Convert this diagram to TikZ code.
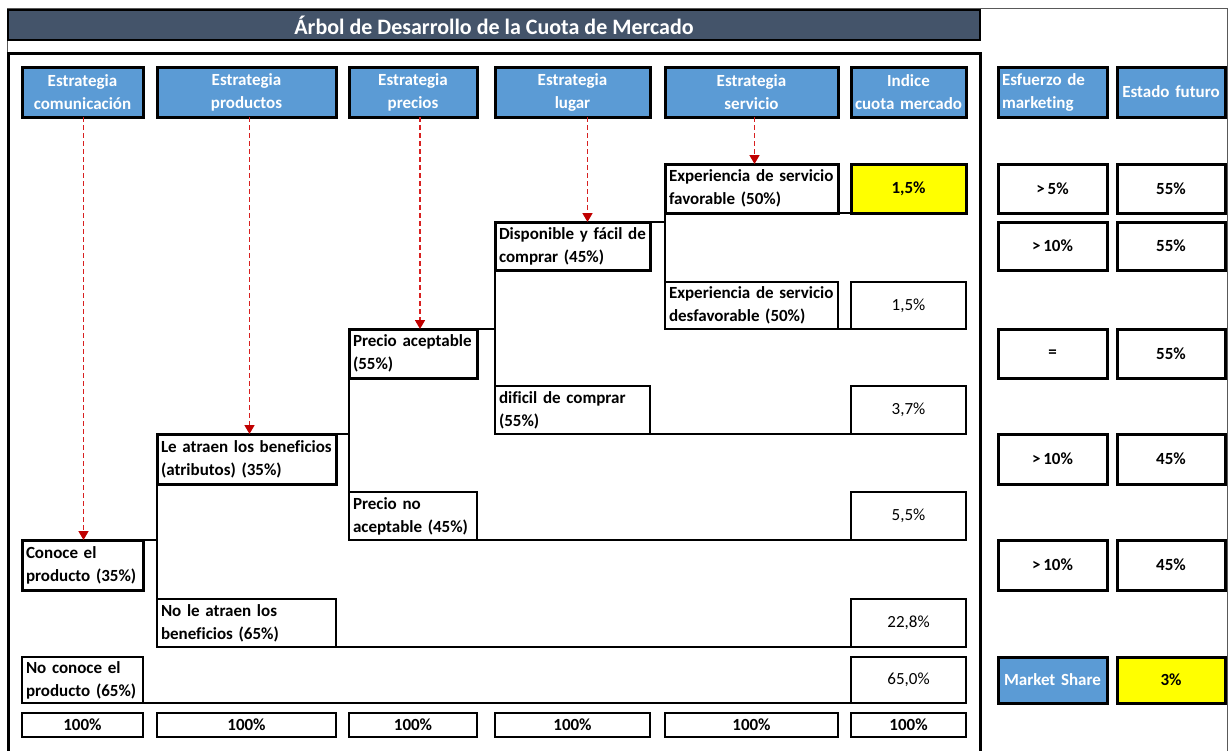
\documentclass[tikz,border=0pt]{standalone}
\usepackage{fontspec}
\setmainfont{Carlito}[Ligatures=NoCommon]
\usetikzlibrary{arrows.meta}

\definecolor{azulenc}{HTML}{5B9BD5}
\definecolor{pizarra}{HTML}{44546A}
\definecolor{amarillo}{HTML}{FFFF00}
\definecolor{rojoflecha}{HTML}{C00000}
\definecolor{rojolinea}{HTML}{D82020}

\tikzset{
  caja/.style={draw=black, line width=2pt, outer sep=0pt, inner xsep=4pt, inner ysep=0pt,
    anchor=north west, font=\fontsize{17}{23}\selectfont},
  gruesa/.style={line width=3pt},
  encab/.style={caja, gruesa, fill=azulenc, text=white, align=center,
    font=\bfseries\fontsize{17}{23}\selectfont},
  rama/.style={caja, align=left, font=\bfseries\fontsize{17}{23}\selectfont},
  valor/.style={caja, align=center},
  negrita/.style={font=\bfseries\fontsize{17}{23}\selectfont},
  linea/.style={line width=2pt},
  flecha/.style={rojolinea, line width=1.6pt, dash pattern=on 5pt off 3pt,
    -{Triangle[width=10pt,length=9pt,color=rojoflecha]}}
}

\begin{document}
\begin{tikzpicture}[x=1pt,y=-1pt]
  \useasboundingbox (0,0) rectangle (1230,750);
  \clip (0,0) rectangle (1230,750);

  % Marco exterior y titulo
  \draw[black!65, line width=1pt] (7,8) rectangle (1227,770);
  \node[caja, line width=2.5pt, fill=pizarra, text=white, minimum width=972pt, minimum height=30pt,
    font=\bfseries\fontsize{22}{26}\selectfont] (titulo) at (8,10) {Árbol de Desarrollo de la Cuota de Mercado};
  \draw[line width=3pt] (8,770) -- (8,53) -- (980,53) -- (980,770);

  % Encabezados
  \node[encab, text width=113pt, minimum height=50pt] (hcom) at (22,67) {Estrategia\\comunicación};
  \node[encab, text width=171pt, minimum height=50pt] (hpro) at (157,67) {Estrategia\\productos};
  \node[encab, text width=120pt, minimum height=50pt] (hpre) at (349,67) {Estrategia\\precios};
  \node[encab, text width=147pt, minimum height=50pt] (hlug) at (495,67) {Estrategia\\lugar};
  \node[encab, text width=165pt, minimum height=50pt] (hser) at (665,67) {Estrategia\\servicio};
  \node[encab, inner xsep=1pt, text width=113pt, minimum height=50pt] (hind) at (851,67) {Indice\\cuota mercado};
  \node[encab, text width=101pt, minimum height=50pt, align=left] (hesf) at (998,67) {Esfuerzo de\\marketing};
  \node[encab, text width=100pt, minimum height=50pt] (hest) at (1117,67) {Estado futuro};

  % Ramas del arbol
  \node[rama, gruesa, text width=113pt, minimum height=50pt] (conoce) at (22,540) {Conoce el\\producto (35\%)};
  \node[rama, text width=113pt, minimum height=46pt] (noconoce) at (22,657) {No conoce el\\producto (65\%)};
  \node[rama, gruesa, text width=171pt, minimum height=50pt] (atraen) at (157,434) {Le atraen los beneficios\\(atributos) (35\%)};
  \node[rama, text width=171pt, minimum height=48pt] (noatraen) at (157,599) {No le atraen los\\beneficios (65\%)};
  \node[rama, gruesa, text width=120pt, minimum height=49pt] (pacep) at (349,329) {Precio aceptable\\(55\%)};
  \node[rama, text width=120pt, minimum height=48pt] (pnoacep) at (349,492) {Precio no\\aceptable (45\%)};
  \node[rama, gruesa, text width=147pt, minimum height=48pt] (disp) at (495,222) {Disponible y fácil de\\comprar (45\%)};
  \node[rama, text width=147pt, minimum height=48pt] (dificil) at (495,386) {dificil de comprar\\(55\%)};
  \node[rama, gruesa, text width=165pt, minimum height=49pt] (fav) at (665,164) {Experiencia de servicio\\favorable (50\%)};
  \node[rama, text width=165pt, minimum height=47pt] (desfav) at (665,282) {Experiencia de servicio\\desfavorable (50\%)};

  % Indice cuota de mercado
  \node[valor, gruesa, negrita, fill=amarillo, text width=107pt, minimum height=49pt] (vfav) at (851,164) {1,5\%};
  \node[valor, text width=107pt, minimum height=47pt] (vdesfav) at (851,282) {1,5\%};
  \node[valor, text width=107pt, minimum height=48pt] (vdif) at (851,386) {3,7\%};
  \node[valor, text width=107pt, minimum height=48pt] (vpno) at (851,492) {5,5\%};
  \node[valor, text width=107pt, minimum height=48pt] (vnoatr) at (851,599) {22,8\%};
  \node[valor, text width=107pt, minimum height=46pt] (vnocon) at (851,657) {65,0\%};

  % Uniones
  \draw[linea] (conoce.north east) -- (conoce.north east -| atraen.west);
  \draw[linea] (atraen.north west) -- (noatraen.south west);
  \draw[linea] (atraen.north east) -- (atraen.north east -| pacep.west);
  \draw[linea] (pacep.north west) -- (pnoacep.south west);
  \draw[linea] (pacep.north east) -- (pacep.north east -| disp.west);
  \draw[linea] (disp.north west) -- (dificil.south west);
  \draw[linea] (disp.north east) -- (disp.north east -| fav.west);
  \draw[linea] (fav.north west) -- (desfav.south west);
  \draw[linea] (fav.south east) -- (vfav.south west);
  \draw[linea] (desfav.south east) -- (vdesfav.south west);
  \draw[linea] (dificil.south east) -- (vdif.south west);
  \draw[linea] (pnoacep.south east) -- (vpno.south west);
  \draw[linea] (noatraen.south east) -- (vnoatr.south west);
  \draw[linea] (noconoce.south east) -- (vnocon.south west);

  % Flechas de estrategia
  \coordinate (acom) at ([xshift=1pt]hcom.south);
  \coordinate (apro) at ([xshift=3pt]hpro.south);
  \coordinate (apre) at ([xshift=7pt]hpre.south);
  \coordinate (alug) at ([xshift=15pt]hlug.south);
  \coordinate (aser) at ([xshift=3pt]hser.south);
  \draw[flecha] (acom) -- (acom |- conoce.north);
  \draw[flecha] (apro) -- (apro |- atraen.north);
  \draw[flecha] (apre) -- (apre |- pacep.north);
  \draw[flecha] (alug) -- (alug |- disp.north);
  \draw[flecha] (aser) -- (aser |- fav.north);

  % Totales
  \node[valor, negrita, text width=113pt, minimum height=24pt] (tcom) at (22,713) {100\%};
  \node[valor, negrita, text width=171pt, minimum height=24pt] (tpro) at (157,713) {100\%};
  \node[valor, negrita, text width=120pt, minimum height=24pt] (tpre) at (349,713) {100\%};
  \node[valor, negrita, text width=147pt, minimum height=24pt] (tlug) at (495,713) {100\%};
  \node[valor, negrita, text width=165pt, minimum height=24pt] (tser) at (665,713) {100\%};
  \node[valor, negrita, text width=107pt, minimum height=24pt] (tind) at (851,713) {100\%};

  % Esfuerzo de marketing y estado futuro
  \node[valor, gruesa, negrita, text width=101pt, minimum height=49pt] (esf1) at (998,164) {>\,5\%};
  \node[valor, gruesa, negrita, text width=100pt, minimum height=49pt] (est1) at (1117,164) {55\%};
  \node[valor, gruesa, negrita, text width=101pt, minimum height=48pt] (esf2) at (998,222) {>\,10\%};
  \node[valor, gruesa, negrita, text width=100pt, minimum height=48pt] (est2) at (1117,222) {55\%};
  \node[valor, gruesa, negrita, text width=101pt, minimum height=49pt] (esf3) at (998,329) {=};
  \node[valor, gruesa, negrita, text width=100pt, minimum height=49pt] (est3) at (1117,329) {55\%};
  \node[valor, gruesa, negrita, text width=101pt, minimum height=50pt] (esf4) at (998,434) {>\,10\%};
  \node[valor, gruesa, negrita, text width=100pt, minimum height=50pt] (est4) at (1117,434) {45\%};
  \node[valor, gruesa, negrita, text width=101pt, minimum height=50pt] (esf5) at (998,540) {>\,10\%};
  \node[valor, gruesa, negrita, text width=100pt, minimum height=50pt] (est5) at (1117,540) {45\%};
  \node[encab, text width=101pt, minimum height=46pt] (mshare) at (998,657) {Market Share};
  \node[valor, gruesa, negrita, fill=amarillo, text width=100pt, minimum height=46pt] (vshare) at (1117,657) {3\%};
\end{tikzpicture}
\end{document}
